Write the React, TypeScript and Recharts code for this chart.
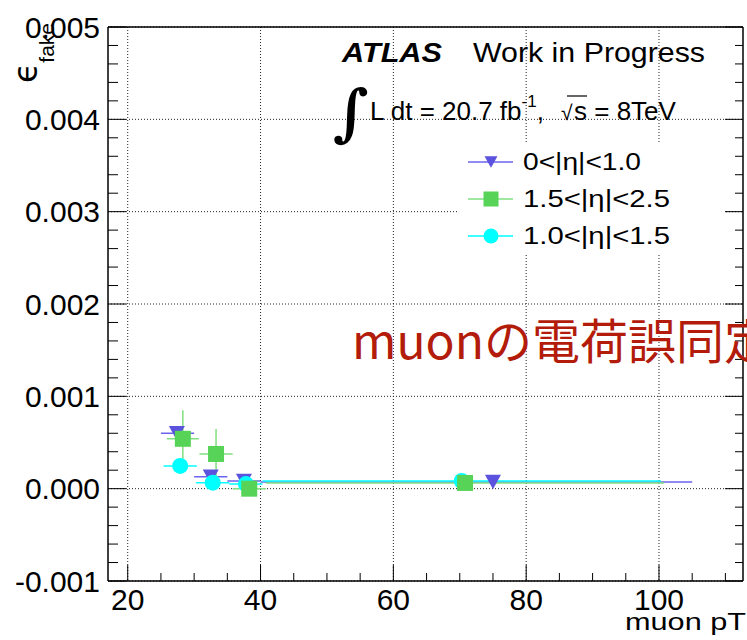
import { ScatterChart, Scatter, XAxis, YAxis, CartesianGrid, ErrorBar, Legend } from "recharts";

const FONT = "'Liberation Sans', Arial, Helvetica, sans-serif";

// muon pT bin centres, [left, right] half widths, fake rate and its error
const ptEta0 = [27.4, 32.5, 37.5, 75.0];
const ptErrEta0 = [[2.4, 2.6], [2.5, 2.5], [2.5, 2.5], [35, 30]];
const fakeEta0 = [0.0006, 0.00013, 0.000083, 0.000072];
const fakeErrEta0 = [0.00003, 0.00001, 0.00001, 0.00001];

const ptEta15 = [28.3, 33.3, 38.3, 70.8];
const ptErrEta15 = [[2.4, 2.4], [2.5, 2.5], [2.5, 2.5], [30, 30]];
const fakeEta15 = [0.00054, 0.000376, 0.0, 0.000062];
const fakeErrEta15 = [0.00031, 0.00027, 0.00002, 0.00001];

const ptEta10 = [27.9, 32.8, 37.8, 70.3];
const ptErrEta10 = [[2.5, 2.5], [2.5, 2.5], [2.5, 2.5], [30, 30]];
const fakeEta10 = [0.000246, 0.000065, 0.00005, 0.000083];
const fakeErrEta10 = [0.00001, 0.00001, 0.00001, 0.00001];

const xMajorTicks = [20, 40, 60, 80, 100];
const xTicks = [20, 25, 30, 35, 40, 45, 50, 55, 60, 65, 70, 75, 80, 85, 90, 95, 100, 105, 110];
const yMajorTicks = [-0.001, 0, 0.001, 0.002, 0.003, 0.004, 0.005];
const yTicks = Array.from({ length: 31 }, (_, i) => Number((-0.001 + i * 0.0002).toFixed(4)));

const legendLabels = ["0<|η|<1.0", "1.5<|η|<2.5", "1.0<|η|<1.5"];

const BLUE = "#5b52de";
const BLUE_LINE = "#6a64ee";
const GREEN = "#57d357";
const GREEN_LINE = "#80df80";
const CYAN = "#00ffff";

const build = (xs: number[], xe: number[][], ys: number[], ye: number[]) =>
  xs.map((x, i) => ({ x, y: ys[i], xErr: xe[i], yErr: ye[i] }));

const dataEta0 = build(ptEta0, ptErrEta0, fakeEta0, fakeErrEta0);
const dataEta15 = build(ptEta15, ptErrEta15, fakeEta15, fakeErrEta15);
const dataEta10 = build(ptEta10, ptErrEta10, fakeEta10, fakeErrEta10);

const isMajorY = (v: number) => Math.abs(v * 1000 - Math.round(v * 1000)) < 1e-6;

function DownTriangle({ cx, cy, fill, s = 8 }: any) {
  return <polygon points={`${cx - s},${cy - s * 0.9} ${cx + s},${cy - s * 0.9} ${cx},${cy + s * 0.9}`} fill={fill} />;
}
function Square({ cx, cy, fill, s = 8 }: any) {
  return <rect x={cx - s} y={cy - s} width={2 * s} height={2 * s} fill={fill} />;
}
function Dot({ cx, cy, fill, s = 8 }: any) {
  return <circle cx={cx} cy={cy} r={s} fill={fill} />;
}

function BottomTick({ x, y, payload }: any) {
  const major = xMajorTicks.includes(payload.value);
  return (
    <g>
      <line x1={x} x2={x} y1={y} y2={y - (major ? 16 : 8)} stroke="#000" />
      {major && (
        <text x={x} y={y + 29} textAnchor="middle" fontSize={30} fontFamily={FONT} fill="#000">
          {payload.value}
        </text>
      )}
    </g>
  );
}
function TopTick({ x, y, payload }: any) {
  const major = xMajorTicks.includes(payload.value);
  return <line x1={x} x2={x} y1={y} y2={y + (major ? 16 : 7)} stroke="#000" />;
}
function LeftTick({ x, y, payload }: any) {
  const major = isMajorY(payload.value);
  return (
    <g>
      <line x1={x} x2={x + (major ? 18 : 10)} y1={y} y2={y} stroke="#000" />
      {major && (
        <text x={x - 8} y={y + 10.5} textAnchor="end" fontSize={30} fontFamily={FONT} fill="#000">
          {payload.value.toFixed(3)}
        </text>
      )}
    </g>
  );
}
function RightTick({ x, y, payload }: any) {
  const major = isMajorY(payload.value);
  return <line x1={x} x2={x - (major ? 18 : 8)} y1={y} y2={y} stroke="#000" />;
}

const legendWidths = [118, 147, 147];

function LegendBox() {
  const rows = [
    { color: BLUE, line: BLUE_LINE, Shape: DownTriangle, s: 6.5 },
    { color: GREEN, line: GREEN_LINE, Shape: Square, s: 7.5 },
    { color: CYAN, line: CYAN, Shape: Dot, s: 7.5 },
  ];
  return (
    <div style={{ width: 266, height: 113, background: "#fff" }}>
      <svg width={266} height={113}>
        {rows.map((r, i) => {
          const cy = 20 + i * 37;
          return (
            <g key={i}>
              <line x1={10} x2={55} y1={cy} y2={cy} stroke={r.line} strokeWidth={1.5} />
              <r.Shape cx={33} cy={cy} fill={r.color} s={r.s} />
              <text x={65} y={cy + 8} fontSize={23} fontFamily={FONT} fill="#000"
                textLength={legendWidths[i]} lengthAdjust="spacingAndGlyphs">
                {legendLabels[i]}
              </text>
            </g>
          );
        })}
      </svg>
    </div>
  );
}

const XDOMAIN: [number, number] = [17.03, 112.65];
const YDOMAIN: [number, number] = [-0.001, 0.005];

export default function App() {
  return (
    <div style={{ position: "absolute", left: 0, top: 0, width: 747, height: 640, background: "#fff", overflow: "hidden" }}>
      <ScatterChart width={747} height={640} margin={{ top: 0, right: 0, bottom: 0, left: 0 }}>
        <CartesianGrid
          horizontalValues={yMajorTicks}
          verticalValues={xMajorTicks}
          stroke="#222"
          strokeDasharray="1 2"
        />
        <XAxis
          xAxisId={0}
          dataKey="x"
          type="number"
          domain={XDOMAIN}
          allowDataOverflow
          ticks={xTicks}
          interval={0}
          height={59}
          tickSize={0}
          tickMargin={0}
          tickLine={false}
          axisLine={{ stroke: "#000", strokeWidth: 1.5 }}
          tick={(p: any) => <BottomTick {...p} />}
        />
        <XAxis
          xAxisId="top"
          orientation="top"
          type="number"
          domain={XDOMAIN}
          allowDataOverflow
          ticks={xTicks}
          interval={0}
          height={27}
          tickSize={0}
          tickMargin={0}
          tickLine={false}
          axisLine={{ stroke: "#000", strokeWidth: 1.5 }}
          tick={(p: any) => <TopTick {...p} />}
        />
        <YAxis
          yAxisId={0}
          dataKey="y"
          type="number"
          domain={YDOMAIN}
          allowDataOverflow
          ticks={yTicks}
          interval={0}
          width={108}
          tickSize={0}
          tickMargin={0}
          tickLine={false}
          axisLine={{ stroke: "#000", strokeWidth: 1.5 }}
          tick={(p: any) => <LeftTick {...p} />}
        />
        <YAxis
          yAxisId="right"
          orientation="right"
          type="number"
          domain={YDOMAIN}
          allowDataOverflow
          ticks={yTicks}
          interval={0}
          width={4}
          tickSize={0}
          tickMargin={0}
          tickLine={false}
          axisLine={{ stroke: "#000", strokeWidth: 1.5 }}
          tick={(p: any) => <RightTick {...p} />}
        />
        <Scatter data={dataEta0} fill={BLUE} shape={(p: any) => <DownTriangle {...p} fill={BLUE} />} isAnimationActive={false}>
          <ErrorBar dataKey="xErr" direction="x" width={0} stroke={BLUE_LINE} strokeWidth={1.5} />
          <ErrorBar dataKey="yErr" direction="y" width={0} stroke={BLUE_LINE} strokeWidth={1.5} />
        </Scatter>
        <Scatter data={dataEta10} fill={CYAN} shape={(p: any) => <Dot {...p} fill={CYAN} />} isAnimationActive={false}>
          <ErrorBar dataKey="xErr" direction="x" width={0} stroke={CYAN} strokeWidth={1.5} />
          <ErrorBar dataKey="yErr" direction="y" width={0} stroke={CYAN} strokeWidth={1.5} />
        </Scatter>
        <Scatter data={dataEta15} fill={GREEN} shape={(p: any) => <Square {...p} fill={GREEN} />} isAnimationActive={false}>
          <ErrorBar dataKey="xErr" direction="x" width={0} stroke={GREEN_LINE} strokeWidth={1.5} />
          <ErrorBar dataKey="yErr" direction="y" width={0} stroke={GREEN_LINE} strokeWidth={1.5} />
        </Scatter>
        <Legend
          layout="horizontal"
          verticalAlign="middle"
          align="center"
          wrapperStyle={{ left: 458, top: 142, width: 266, height: 113 }}
          content={() => <LegendBox />}
        />
      </ScatterChart>
      <svg width={747} height={640} style={{ position: "absolute", left: 0, top: 0, pointerEvents: "none" }}>
        <text x={342} y={62} fontSize={28} fontWeight="bold" fontStyle="italic" fontFamily={FONT}
          textLength={100} lengthAdjust="spacingAndGlyphs">ATLAS</text>
        <text x={473} y={62} fontSize={28} fontFamily={FONT} textLength={232} lengthAdjust="spacingAndGlyphs">Work in Progress</text>
        <text x={333} y={134} fontSize={62} fontFamily="'DejaVu Serif', serif" fontWeight="bold">∫</text>
        <text x={370} y={119.5} fontSize={26} fontFamily={FONT}>
          L dt = 20.7 fb<tspan dy={-13} fontSize={17}>-1</tspan><tspan dy={13}>,</tspan>
        </text>
        <text x={561} y={119.5} fontSize={21} fontFamily={FONT}>√</text>
        <line x1={567} x2={587} y1={96} y2={96} stroke="#000" strokeWidth={1.2} />
        <text x={574} y={119.5} fontSize={26} fontFamily={FONT}>s = 8TeV</text>
        <text x={352} y={359} fontSize={48} fontFamily="'Noto Sans CJK JP', sans-serif" fill="#b31b0b">muonの電荷誤同定</text>
        <text transform="translate(37,83) rotate(-90)" fontSize={33} fontFamily="'DejaVu Sans', sans-serif">
          ϵ<tspan dy={17} fontSize={21} fontFamily={FONT}>fake</tspan>
        </text>
        <text x={746} y={630} textAnchor="end" fontSize={23} fontFamily={FONT} textLength={121} lengthAdjust="spacingAndGlyphs">muon pT</text>
      </svg>
    </div>
  );
}
